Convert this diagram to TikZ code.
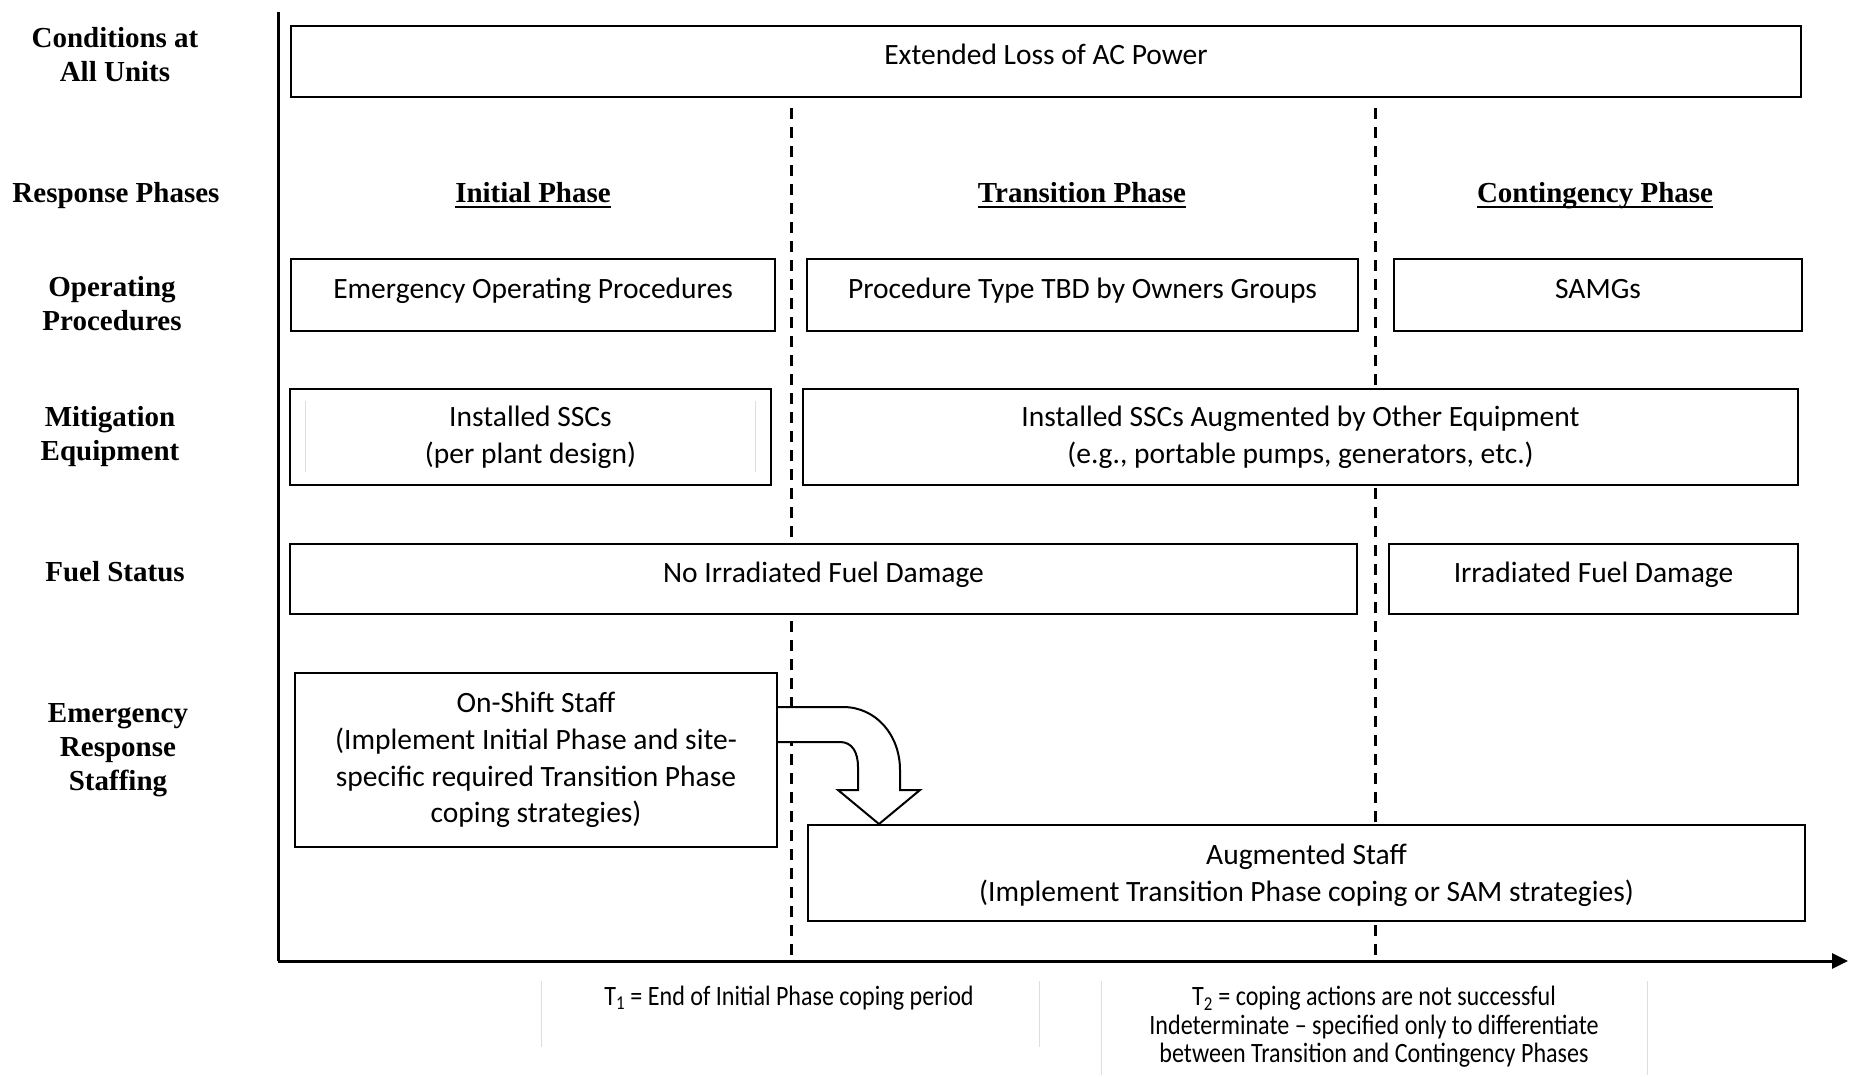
\documentclass[tikz,border=0pt]{standalone}
\usepackage{fontspec}
\setmainfont{Carlito}
\newfontfamily\labelfont{Liberation Serif}
\newfontfamily\notefont[FakeStretch=0.86]{Carlito}
\usetikzlibrary{arrows.meta}

% underline at a fixed depth, whatever the descenders
\newcommand\phaseul[1]{\setbox0\hbox{#1}\rlap{\rule[-5pt]{\wd0}{2pt}}\box0}

\begin{document}
\begin{tikzpicture}[x=1pt,y=-1pt,
    box/.style={draw, fill=white, line width=2pt, inner sep=0pt, align=center,
      font=\fontsize{29.5}{36.6}\selectfont},
    onebox/.style={box, text height=22pt, text depth=16pt},
    rowlabel/.style={align=center, font=\labelfont\bfseries\fontsize{29}{34}\selectfont},
    phase/.style={font=\labelfont\bfseries\fontsize{29}{34}\selectfont,
      text height=20pt, text depth=7pt},
    note/.style={align=center, font=\notefont\fontsize{28}{28.4}\selectfont},
    axis/.style={line width=3pt},
    timeline/.style={line width=3pt, dash pattern=on 11pt off 8pt},
    divider/.style={line width=1pt, black!13}]
  \useasboundingbox (0,0) rectangle (1849,1076);

  % axes and phase boundaries
  \coordinate (origin) at (278,961);
  \coordinate (ytop) at (278,12);
  \coordinate (xend) at (1848,961);
  \coordinate (t1top) at (791,108);
  \coordinate (t1bot) at (791,961);
  \coordinate (t2top) at (1375,108);
  \coordinate (t2bot) at (1375,961);
  \draw[timeline] (t1top) -- (t1bot);
  \draw[timeline] (t2top) -- (t2bot);
  \draw[axis] (ytop) -- (origin);
  \draw[axis, -{Triangle[length=16pt,width=15pt]}] (origin) -- (xend);

  % row labels
  \node[rowlabel] (conditions) at (115,55) {Conditions at\\All Units};
  \node[rowlabel] (phases) at (116,196) {Response Phases};
  \node[rowlabel] (procedures) at (112,304) {Operating\\Procedures};
  \node[rowlabel] (mitigation) at (110,437) {Mitigation\\Equipment};
  \node[rowlabel] (fuelstatus) at (115,572) {Fuel Status};
  \node[rowlabel] (staffing) at (118,750) {Emergency\\Response\\Staffing};

  % phase titles
  \node[phase] (initial) at (533,196) {\phaseul{Initial Phase}};
  \node[phase] (transition) at (1082,196) {\phaseul{Transition Phase}};
  \node[phase] (contingency) at (1595,196) {\phaseul{Contingency Phase}};

  % boxes
  \node[onebox, minimum width=1510pt, minimum height=71pt] (elap) at (1046,61.5)
    {Extended Loss of AC Power};
  \node[onebox, minimum width=484pt, minimum height=72pt] (eop) at (533,295)
    {Emergency Operating Procedures};
  \node[onebox, minimum width=551pt, minimum height=72pt] (tbd) at (1082.5,295)
    {Procedure Type TBD by Owners Groups};
  \node[onebox, minimum width=408pt, minimum height=72pt] (samg) at (1598,295)
    {SAMGs};
  \node[box, minimum width=481pt, minimum height=96pt] (ssc) at (530.5,437)
    {Installed SSCs\\(per plant design)};
  \draw[divider] (305,401) -- (305,472);
  \draw[divider] (755,401) -- (755,472);
  \node[box, minimum width=995pt, minimum height=96pt] (sscplus) at (1300.5,437)
    {Installed SSCs Augmented by Other Equipment\\(e.g., portable pumps, generators, etc.)};
  \node[onebox, minimum width=1067pt, minimum height=70pt] (nodamage) at (823.5,579)
    {No Irradiated Fuel Damage};
  \node[onebox, minimum width=409pt, minimum height=70pt] (damage) at (1593.5,579)
    {Irradiated Fuel Damage};
  \node[box, minimum width=482pt, minimum height=174pt] (onshift) at (536,760)
    {On-Shift Staff\\(Implement Initial Phase and site-\\specific required Transition Phase\\coping strategies)};
  \node[box, text depth=0pt, minimum width=997pt, minimum height=96pt] (augstaff) at (1306.5,873)
    {Augmented Staff\\(Implement Transition Phase coping or SAM strategies)};

  % bent block arrow from on-shift to augmented staff
  \filldraw[fill=white, line width=2pt, line join=miter]
    (onshift.east |- 0,707) -- (843,707) .. controls (876,707) and (900,735) .. (900,770)
    -- (900,790) -- (920,790) -- (augstaff.north -| 879,0) -- (838,790) -- (858,790)
    -- (858,767) .. controls (858,752) and (852,742) .. (840,742) -- (onshift.east |- 0,742);

  % notes under the time axis
  \draw[divider] (541,981) -- (541,1047);
  \draw[divider] (1039,981) -- (1039,1047);
  \draw[divider] (1101,981) -- (1101,1075);
  \draw[divider] (1647,981) -- (1647,1075);
  \node[note] (t1note) at (789,998) {T\textsubscript{1} = End of Initial Phase coping period};
  \node[note] (t2note) at (1374,1027) {T\textsubscript{2} = coping actions are not successful\\Indeterminate – specified only to differentiate\\between Transition and Contingency Phases};
\end{tikzpicture}
\end{document}
